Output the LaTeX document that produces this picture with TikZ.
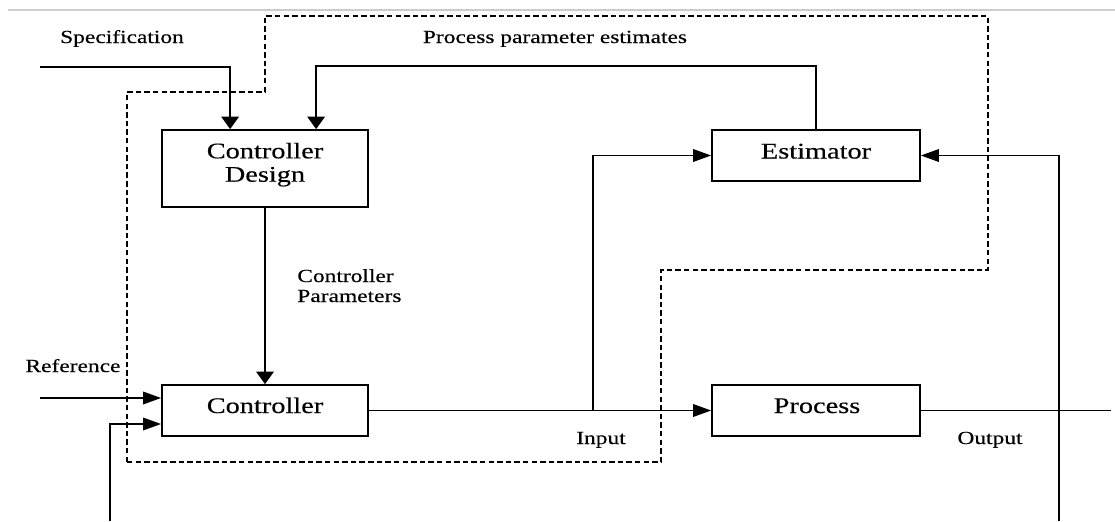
\documentclass[tikz,border=0pt]{standalone}
\usepackage{fontspec}
\setmainfont{Liberation Serif}[FakeStretch=1.27,FakeBold=0.35]
\usetikzlibrary{arrows.meta,calc}
\begin{document}
\begin{tikzpicture}[x=0.02cm,y=-0.02cm,
  blk/.style={draw, line width=1pt, inner sep=0pt, minimum height=1.02cm},
  btxt/.style={font=\fontsize{12.7}{14}\selectfont, anchor=base, inner sep=0pt},
  ltxt/.style={font=\fontsize{10.5}{11.3}\selectfont, anchor=base, inner sep=0pt},
  conn/.style={line width=1pt},
  harr/.style={conn, -{Triangle[length=0.36cm,width=0.25cm]}},
  varr/.style={conn, -{Triangle[length=0.25cm,width=0.35cm]}},
  dsh/.style={line width=0.8pt, dash pattern=on 3.1pt off 1.8pt},
  rule/.style={draw=black!20, line width=0.6pt}
]
\useasboundingbox (0,0) rectangle (1115,521);

% faint top rule
\coordinate (r1) at (8,10);
\coordinate (r2) at (1115,10);
\draw[rule] (r1) -- (r2);

% dashed region
\draw[dsh] (127,462) -- (127,92) -- (265,92) -- (265,16) -- (988,16)
  -- (988,270) -- (661,270) -- (661,462) -- cycle;

% blocks
\node[blk, minimum width=4.12cm, minimum height=1.54cm] (cd) at (265,168.5) {};
\node[blk, minimum width=4.16cm] (est) at (816,155.5) {};
\node[blk, minimum width=4.12cm] (ctl) at (265,410.5) {};
\node[blk, minimum width=4.16cm] (proc) at (816,410.5) {};

% block texts
\node[btxt] (cdt1) at (265,158.3) {Controller};
\node[btxt] (cdt2) at (265,181.7) {Design};
\node[btxt] (estt) at (816,158.5) {Estimator};
\node[btxt] (ctlt) at (265,413) {Controller};
\node[btxt] (proct) at (817,413) {Process};

% labels
\node[ltxt] (spec) at (122,43) {Specification};
\node[ltxt] (ppe) at (555,43) {Process parameter estimates};
\node[ltxt, anchor=base west] (cp1) at (297,282) {Controller};
\node[ltxt, anchor=base west] (cp2) at (297,302) {Parameters};
\node[ltxt] (ref) at (73,372) {Reference};
\node[ltxt] (inp) at (601,444) {Input};
\node[ltxt] (outp) at (990,444) {Output};

% free ends
\coordinate (specin) at (40,67);
\coordinate (refin) at (40,398);
\coordinate (fbin) at (110,521);
\coordinate (br) at (593,410.5);
\coordinate (outend) at (1111,410.5);
\coordinate (fbout) at (1059,521);

% connectors
\draw[varr] (specin) -| ([xshift=1.38cm]cd.north west);
\draw[varr] (est.north) -- ++(0,-63.5) -| ([xshift=3.1cm]cd.north west);
\draw[varr] (cd.south) -- (ctl.north);
\draw[harr] (refin) -- (refin -| ctl.west);
\draw[harr] (fbin) |- (ctl.west |- 0,424);
\draw[harr] (ctl.east) -- (proc.west);
\draw[harr] (br) |- (est.west);
\draw[conn] (proc.east) -- (outend);
\draw[harr] (fbout) |- (est.east);
\end{tikzpicture}
\end{document}
